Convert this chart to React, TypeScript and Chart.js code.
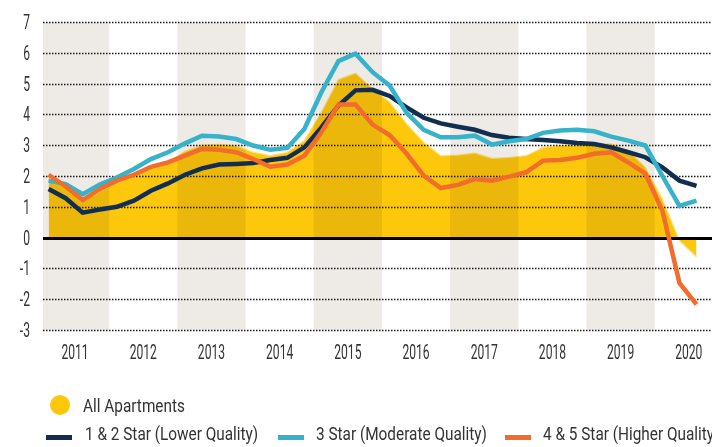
import React, { useEffect, useRef } from "react";
import { Chart, registerables } from "chart.js";

Chart.register(...registerables);

// Quarterly observations, 2011 Q1 .. 2020 Q3
const QUARTERS: string[] = [
  "2011Q1", "2011Q2", "2011Q3", "2011Q4",
  "2012Q1", "2012Q2", "2012Q3", "2012Q4",
  "2013Q1", "2013Q2", "2013Q3", "2013Q4",
  "2014Q1", "2014Q2", "2014Q3", "2014Q4",
  "2015Q1", "2015Q2", "2015Q3", "2015Q4",
  "2016Q1", "2016Q2", "2016Q3", "2016Q4",
  "2017Q1", "2017Q2", "2017Q3", "2017Q4",
  "2018Q1", "2018Q2", "2018Q3", "2018Q4",
  "2019Q1", "2019Q2", "2019Q3", "2019Q4",
  "2020Q1", "2020Q2", "2020Q3",
];

const YEAR_LABELS: string[] = ["2011", "2012", "2013", "2014", "2015", "2016", "2017", "2018", "2019", "2020"];
const Y_TICKS: number[] = [-3, -2, -1, 0, 1, 2, 3, 4, 5, 6, 7];

const ALL_APARTMENTS: number[] = [
  1.9, 1.65, 1.2, 1.5,
  1.8, 2.0, 2.3, 2.45,
  2.8, 3.0, 3.03, 2.98,
  2.77, 2.66, 2.77, 3.15,
  4.07, 5.13, 5.34, 4.83,
  4.4, 3.69, 3.09, 2.66,
  2.68, 2.74, 2.57, 2.6,
  2.66, 2.93, 2.99, 3.01,
  3.04, 3.04, 2.82, 2.28,
  1.25, -0.1, -0.63,
];

const STAR_1_2: number[] = [
  1.58, 1.28, 0.81, 0.91,
  1.0, 1.2, 1.52, 1.76,
  2.04, 2.25, 2.37, 2.39,
  2.42, 2.52, 2.59, 2.93,
  3.58, 4.29, 4.78, 4.8,
  4.6, 4.23, 3.89, 3.71,
  3.6, 3.5, 3.33, 3.24,
  3.2, 3.17, 3.13, 3.07,
  3.04, 2.93, 2.77, 2.61,
  2.28, 1.85, 1.68,
];

const STAR_3: number[] = [
  1.85, 1.74, 1.41, 1.72,
  1.95, 2.23, 2.55, 2.77,
  3.06, 3.31, 3.28, 3.2,
  2.99, 2.85, 2.91, 3.53,
  4.72, 5.73, 5.97, 5.37,
  4.94, 4.05, 3.5, 3.26,
  3.26, 3.31, 3.02, 3.13,
  3.2, 3.4, 3.48, 3.5,
  3.45, 3.28, 3.15, 2.99,
  2.0, 1.03, 1.2,
];

const STAR_4_5: number[] = [
  2.04, 1.66, 1.22, 1.58,
  1.85, 2.04, 2.3, 2.44,
  2.66, 2.88, 2.85, 2.77,
  2.55, 2.3, 2.37, 2.66,
  3.42, 4.32, 4.32, 3.67,
  3.33, 2.72, 2.01, 1.61,
  1.71, 1.9, 1.85, 1.98,
  2.12, 2.5, 2.52, 2.59,
  2.72, 2.77, 2.44, 2.08,
  0.87, -1.47, -2.17,
];

const COLORS = {
  yellow: "#fdc70c",
  yellowEdge: "rgba(255,226,120,0.95)",
  navy: "#112e51",
  cyan: "#37b2cb",
  orange: "#f26c2b",
  band: "#eeebe7",
  text: "#333333",
};

const FONT = "Roboto, 'Noto Sans', sans-serif";
const TICK_FONT_SIZE = 19.5;
const TICK_SCALE_X = 0.62;
const LEGEND_SCALE_X = 0.83;

// band offset (in quarter units) of each calendar year start relative to its Q1 point
const YEAR_START_OFFSET = -0.45;

const toXY = (arr: number[]) => arr.map((v, i) => ({ x: i, y: v }));

function drawCondensed(ctx: CanvasRenderingContext2D, text: string, x: number, y: number, align: CanvasTextAlign) {
  ctx.save();
  ctx.translate(x, y);
  ctx.scale(TICK_SCALE_X, 1);
  ctx.textAlign = align;
  ctx.textBaseline = "alphabetic";
  ctx.fillText(text, 0, 0);
  ctx.restore();
}

const chartPlugin = {
  id: "customLayers",
  afterDatasetDraw(chart: any, args: any) {
    if (args.index !== 3) return;
    const { ctx, chartArea, scales } = chart;
    const xs = scales.x;
    const ys = scales.y;
    // alternating year bands, multiplied over the area fill
    ctx.save();
    ctx.beginPath();
    ctx.rect(chartArea.left, chartArea.top, chartArea.right - chartArea.left, chartArea.bottom - chartArea.top);
    ctx.clip();
    ctx.globalCompositeOperation = "multiply";
    ctx.fillStyle = COLORS.band;
    YEAR_LABELS.forEach((_, k) => {
      if (k % 2 !== 0) return;
      const x0 = xs.getPixelForValue(4 * k + YEAR_START_OFFSET);
      const x1 = xs.getPixelForValue(4 * k + 4 + YEAR_START_OFFSET);
      ctx.fillRect(x0, chartArea.top, x1 - x0, chartArea.bottom - chartArea.top);
    });
    ctx.restore();
    // horizontal grid
    ctx.save();
    Y_TICKS.forEach((v) => {
      const y = Math.round(ys.getPixelForValue(v)) + 0.5;
      ctx.beginPath();
      if (v === 0) {
        ctx.setLineDash([]);
        ctx.lineWidth = 3;
        ctx.strokeStyle = "#000000";
      } else {
        ctx.setLineDash([1.5, 1.5]);
        ctx.lineWidth = 1.5;
        ctx.strokeStyle = "#1a1a1a";
      }
      ctx.moveTo(chartArea.left, y);
      ctx.lineTo(chartArea.right, y);
      ctx.stroke();
    });
    ctx.restore();
  },
  afterDraw(chart: any) {
    const { ctx, chartArea, scales } = chart;
    const xs = scales.x;
    const ys = scales.y;
    ctx.save();
    ctx.fillStyle = COLORS.text;
    ctx.font = `${TICK_FONT_SIZE}px ${FONT}`;
    Y_TICKS.forEach((v) => {
      drawCondensed(ctx, String(v), chartArea.left - 13, ys.getPixelForValue(v) + 7, "right");
    });
    YEAR_LABELS.forEach((lab, k) => {
      drawCondensed(ctx, lab, xs.getPixelForValue(4 * k + 2 + YEAR_START_OFFSET), chartArea.bottom + 29, "center");
    });
    ctx.restore();
  },
};

export default function App() {
  const canvasRef = useRef<HTMLCanvasElement | null>(null);

  useEffect(() => {
    if (!canvasRef.current) return;
    const lineDs = (label: string, data: number[], color: string) => ({
      label,
      data: toXY(data),
      borderColor: color,
      backgroundColor: color,
      borderWidth: 4.5,
      pointRadius: 0,
      tension: 0,
      fill: false,
      borderJoinStyle: "miter" as const,
    });
    const chart = new Chart(canvasRef.current, {
      type: "line",
      data: {
        datasets: [
          lineDs("4 & 5 Star (Higher Quality)", STAR_4_5, COLORS.orange),
          lineDs("3 Star (Moderate Quality)", STAR_3, COLORS.cyan),
          lineDs("1 & 2 Star (Lower Quality)", STAR_1_2, COLORS.navy),
          {
            label: "All Apartments",
            data: toXY(ALL_APARTMENTS),
            borderColor: COLORS.yellowEdge,
            backgroundColor: COLORS.yellow,
            borderWidth: 1.2,
            pointRadius: 0,
            tension: 0,
            fill: "origin",
          },
        ],
      },
      options: {
        responsive: false,
        animation: false,
        events: [],
        layout: { padding: { top: 22, right: 0, bottom: 0, left: 0 } },
        plugins: {
          legend: { display: false },
          tooltip: { enabled: false },
        },
        scales: {
          x: {
            type: "linear",
            min: -0.33,
            max: 38.91,
            grid: { display: false, drawTicks: false },
            border: { display: false },
            afterBuildTicks: (scale: any) => {
              scale.ticks = YEAR_LABELS.map((_, k) => ({ value: 4 * k + 2 + YEAR_START_OFFSET }));
            },
            afterFit: (scale: any) => {
              scale.height = 117;
            },
            ticks: { display: false },
          },
          y: {
            min: Y_TICKS[0],
            max: Y_TICKS[Y_TICKS.length - 1],
            grid: { display: false, drawTicks: false },
            border: { display: false },
            afterFit: (scale: any) => {
              scale.width = 43;
            },
            ticks: { display: false, stepSize: 1 },
          },
        },
      },
      plugins: [chartPlugin],
    });
    return () => chart.destroy();
  }, []);

  const legendText: React.CSSProperties = {
    position: "absolute",
    fontFamily: FONT,
    fontSize: 18.5,
    lineHeight: "18.5px",
    color: COLORS.text,
    whiteSpace: "nowrap",
    transform: `scaleX(${LEGEND_SCALE_X})`,
    transformOrigin: "0 0",
  };
  const dash = (left: number, color: string): React.CSSProperties => ({
    position: "absolute",
    left,
    top: 435,
    width: 26,
    height: 4.5,
    background: color,
  });

  return (
    <div
      style={{
        position: "fixed",
        left: 0,
        top: 0,
        width: 712,
        height: 447,
        overflow: "hidden",
        background: "#ffffff",
      }}
    >
      <canvas ref={canvasRef} width={712} height={447} style={{ display: "block", width: 712, height: 447 }} />
      <div
        style={{
          position: "absolute",
          left: 49.5,
          top: 395,
          width: 20,
          height: 20,
          borderRadius: "50%",
          background: COLORS.yellow,
        }}
      />
      <div style={{ ...legendText, left: 83, top: 396.6 }}>All Apartments</div>
      <div style={dash(46, COLORS.navy)} />
      <div style={{ ...legendText, left: 85, top: 424.9 }}>1 &amp; 2 Star (Lower Quality)</div>
      <div style={dash(278, COLORS.cyan)} />
      <div style={{ ...legendText, left: 316, top: 424.9 }}>3 Star (Moderate Quality)</div>
      <div style={dash(505, COLORS.orange)} />
      <div style={{ ...legendText, left: 543, top: 424.9 }}>4 &amp; 5 Star (Higher Quality)</div>
    </div>
  );
}
